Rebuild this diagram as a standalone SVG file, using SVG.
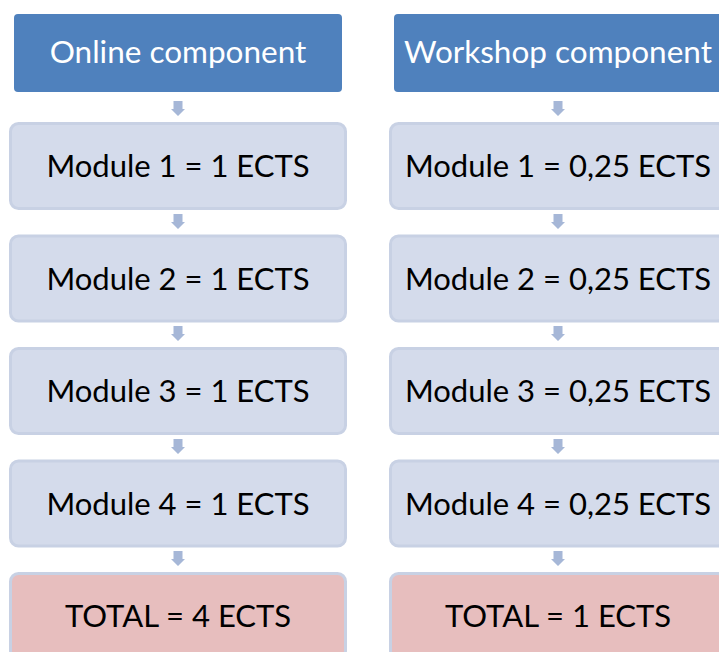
<svg xmlns="http://www.w3.org/2000/svg" width="719" height="652" viewBox="0 0 719 652">
<style>
.hdr{fill:#4F81BD}
.mod{fill:#D4DBEB;stroke:#C8D1E4;stroke-width:3}
.tot{fill:#E7BEBE;stroke:#C8D1E4;stroke-width:3}
.arr{fill:#A6B7D7}
text{font-family:Lato,"Liberation Sans",sans-serif;font-size:31px;text-anchor:middle}
.ht{fill:#FFFFFF;font-size:31.5px}
.bt{fill:#000000}
</style>
<defs>
<path id="ar" d="M-4.5,0 H4.5 V8 H7 L0,15 L-7,8 H-4.5 Z"/>
</defs>
<rect width="719" height="652" fill="#FFFFFF"/>
<g id="connectors">
<use href="#ar" class="arr" x="178" y="101"/>
<use href="#ar" class="arr" x="178" y="214"/>
<use href="#ar" class="arr" x="178" y="326"/>
<use href="#ar" class="arr" x="178" y="439"/>
<use href="#ar" class="arr" x="178" y="551"/>
<use href="#ar" class="arr" x="558" y="101"/>
<use href="#ar" class="arr" x="558" y="214"/>
<use href="#ar" class="arr" x="558" y="326"/>
<use href="#ar" class="arr" x="558" y="439"/>
<use href="#ar" class="arr" x="558" y="551"/>
</g>
<g id="online-header"><rect class="hdr" x="14" y="14" width="328" height="78" rx="4"/><text class="ht" x="178" y="63">Online component</text></g>
<g id="online-m1"><rect class="mod" x="10.5" y="123.5" width="335" height="85" rx="8"/><text class="bt" x="178" y="177">Module 1 = 1 ECTS</text></g>
<g id="online-m2"><rect class="mod" x="10.5" y="236" width="335" height="85" rx="8"/><text class="bt" x="178" y="289.5">Module 2 = 1 ECTS</text></g>
<g id="online-m3"><rect class="mod" x="10.5" y="348.5" width="335" height="85" rx="8"/><text class="bt" x="178" y="402">Module 3 = 1 ECTS</text></g>
<g id="online-m4"><rect class="mod" x="10.5" y="461" width="335" height="85" rx="8"/><text class="bt" x="178" y="514.5">Module 4 = 1 ECTS</text></g>
<g id="online-total"><rect class="tot" x="10.5" y="573.5" width="335" height="85" rx="8"/><text class="bt" x="178" y="627">TOTAL = 4 ECTS</text></g>
<g id="workshop-header"><rect class="hdr" x="394" y="14" width="328" height="78" rx="4"/><text class="ht" x="558" y="63">Workshop component</text></g>
<g id="workshop-m1"><rect class="mod" x="390.5" y="123.5" width="335" height="85" rx="8"/><text class="bt" x="558" y="177">Module 1 = 0,25 ECTS</text></g>
<g id="workshop-m2"><rect class="mod" x="390.5" y="236" width="335" height="85" rx="8"/><text class="bt" x="558" y="289.5">Module 2 = 0,25 ECTS</text></g>
<g id="workshop-m3"><rect class="mod" x="390.5" y="348.5" width="335" height="85" rx="8"/><text class="bt" x="558" y="402">Module 3 = 0,25 ECTS</text></g>
<g id="workshop-m4"><rect class="mod" x="390.5" y="461" width="335" height="85" rx="8"/><text class="bt" x="558" y="514.5">Module 4 = 0,25 ECTS</text></g>
<g id="workshop-total"><rect class="tot" x="390.5" y="573.5" width="335" height="85" rx="8"/><text class="bt" x="558" y="627">TOTAL = 1 ECTS</text></g>
</svg>
